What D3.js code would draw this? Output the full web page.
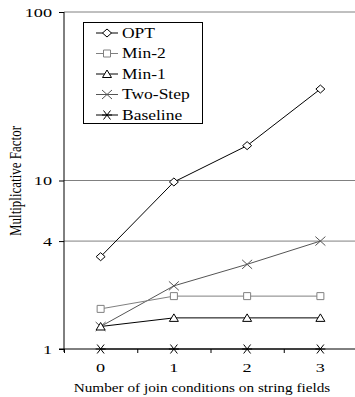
<!DOCTYPE html>
<html>
<head>
<meta charset="utf-8">
<script src="https://cdn.jsdelivr.net/npm/d3@7"></script>
<style>
  body { margin: 0; background: #fff; }
</style>
</head>
<body>
<div id="chart"></div>
<script>
// data
var xValues = [0, 1, 2, 3];
var seriesNames = ["OPT", "Min-2", "Min-1", "Two-Step", "Baseline"];
var optValues = [3.53, 9.8, 16.1, 34.9];
var min2Values = [1.73, 2.06, 2.06, 2.06];
var min1Values = [1.36, 1.53, 1.53, 1.53];
var twoStepValues = [1.36, 2.37, 3.18, 4.37];
var baselineValues = [1, 1, 1, 1];
var yTicks = [1, 4.37, 10, 100];
var yGrid = [4.37, 10, 100];
var xMinorTicks = [-0.5, 0.5, 1.5, 2.5, 3.5];
var yLabel = "Multiplicative Factor";
var xLabel = "Number of join conditions on string fields";

var allValues = [optValues, min2Values, min1Values, twoStepValues, baselineValues];

// style per series
var seriesStyle = [
  {shape: "diamond", color: "#000"},
  {shape: "square", color: "#808080"},
  {shape: "triangle", color: "#000"},
  {shape: "cross", color: "#555"},
  {shape: "asterisk", color: "#000"}
];

var W = 355, H = 397;
var stretch = 1.25; // the figure's text is widened horizontally
var serif = "Liberation Serif";

var svg = d3.select("#chart").append("svg")
  .attr("width", W)
  .attr("height", H)
  .attr("font-family", serif);

var x = d3.scaleLinear().domain([-0.5, 3.5]).range([64, 357]);
var y = d3.scaleLog().domain([1, 100]).range([349, 12]);

function markerPath(shape) {
  switch (shape) {
    case "diamond": return "M-4.5,0L0,-4L4.5,0L0,4Z";
    case "square": return "M-3.5,-3.5H3.5V3.5H-3.5Z";
    case "triangle": return "M-4.5,3.5L0,-4L4.5,3.5Z";
    case "cross": return "M-5,-4.5L5,4.5M-5,4.5L5,-4.5";
    case "asterisk": return "M-5,0H5M-3.5,-4.5L3.5,4.5M-3.5,4.5L3.5,-4.5";
  }
}

function stretchedText(g, tx, ty, str, anchor, size, sx) {
  return g.append("text")
    .attr("transform", "translate(" + tx + "," + ty + ") scale(" + (sx || stretch) + ",1)")
    .attr("text-anchor", anchor)
    .attr("font-family", serif)
    .attr("font-size", size)
    .attr("fill", "#000")
    .text(str);
}

// gridlines
svg.append("g").selectAll("line").data(yGrid).enter().append("line")
  .attr("x1", x(-0.5)).attr("x2", W)
  .attr("y1", function(d) { return y(d); })
  .attr("y2", function(d) { return y(d); })
  .attr("stroke", "#808080")
  .attr("stroke-width", 1);

// y axis
var yAxis = d3.axisLeft(y).tickValues(yTicks).tickSize(5).tickFormat("");
var gy = svg.append("g").attr("transform", "translate(" + x(-0.5) + ",0)").call(yAxis);
gy.select(".domain").attr("d", "M0," + y(100) + "V" + (y(1) + 3)).attr("stroke", "#000");
gy.selectAll(".tick line").attr("stroke", "#000");
yTicks.forEach(function(t) {
  stretchedText(svg, 52, y(t) + 4.5, d3.format(".0f")(t), "end", 13.5, 1.35);
});

// x axis
var xAxis = d3.axisBottom(x).tickValues(xMinorTicks).tickSize(4).tickFormat("");
var gx = svg.append("g").attr("transform", "translate(0," + y(1) + ")").call(xAxis);
gx.select(".domain").attr("d", "M" + (x(-0.5) - 5) + ",0H" + W).attr("stroke", "#000");
gx.selectAll(".tick line").attr("stroke", "#000");
xValues.forEach(function(v) {
  stretchedText(svg, x(v), 372, String(v), "middle", 13.5, 1.35);
});

// axis titles (glyphs widened across the rotated baseline)
svg.append("text")
  .attr("transform", "translate(21,181) rotate(-90) scale(1," + stretch + ")")
  .attr("text-anchor", "middle")
  .attr("font-family", serif)
  .attr("font-size", 13)
  .attr("fill", "#000")
  .text(yLabel);
stretchedText(svg, 202, 392, xLabel, "middle", 12.5, 1.22);

// series
var line = d3.line()
  .x(function(d, i) { return x(xValues[i]); })
  .y(function(d) { return y(d); });

// draw back to front so OPT ends on top
for (var s = allValues.length - 1; s >= 0; s--) {
  var st = seriesStyle[s];
  var g = svg.append("g").attr("class", "series");
  g.append("path")
    .datum(allValues[s])
    .attr("d", line)
    .attr("fill", "none")
    .attr("stroke", st.color)
    .attr("stroke-width", 1);
  g.selectAll(".mk").data(allValues[s]).enter().append("path")
    .attr("class", "mk")
    .attr("transform", function(d, i) { return "translate(" + x(xValues[i]) + "," + y(d) + ")"; })
    .attr("d", markerPath(st.shape))
    .attr("fill", st.shape === "cross" || st.shape === "asterisk" ? "none" : "#fff")
    .attr("stroke", st.color)
    .attr("stroke-width", 1);
}

// legend
var legend = svg.append("g");
legend.append("rect")
  .attr("x", 83.5).attr("y", 22.5)
  .attr("width", 119).attr("height", 101)
  .attr("fill", "#fff")
  .attr("stroke", "#000");
seriesNames.forEach(function(name, i) {
  var ly = 33 + i * 20.5;
  var st = seriesStyle[i];
  legend.append("line")
    .attr("x1", 96).attr("x2", 118)
    .attr("y1", ly).attr("y2", ly)
    .attr("stroke", st.color);
  legend.append("path")
    .attr("transform", "translate(107," + ly + ")")
    .attr("d", markerPath(st.shape))
    .attr("fill", st.shape === "cross" || st.shape === "asterisk" ? "none" : "#fff")
    .attr("stroke", st.color);
  stretchedText(legend, 122, ly + 4.5, name, "start", 14);
});
</script>
</body>
</html>
